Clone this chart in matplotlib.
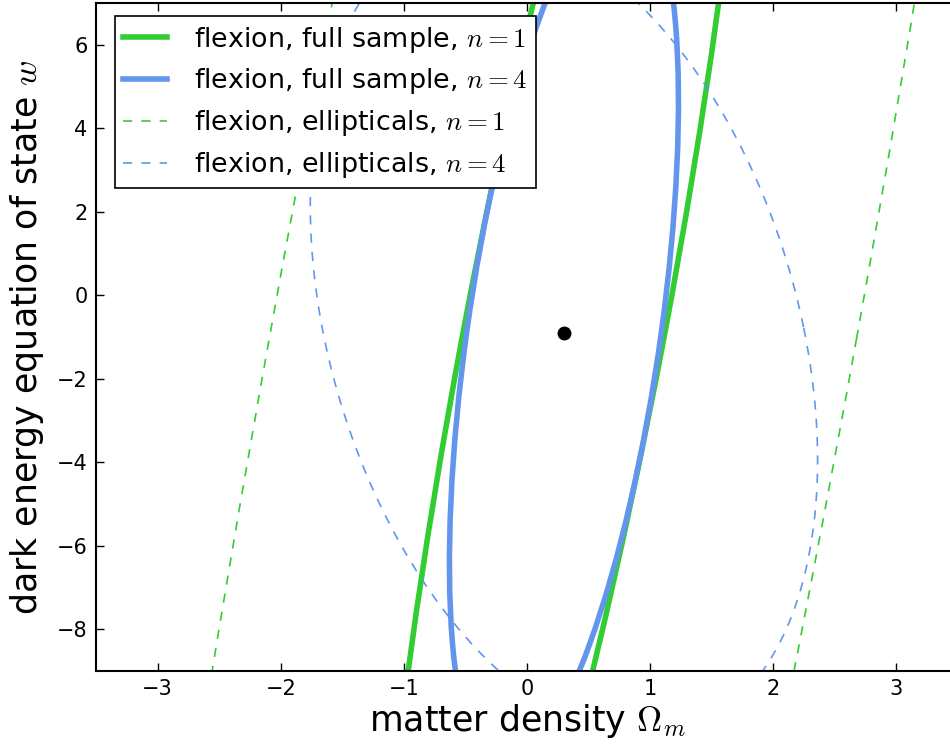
import numpy as np
import matplotlib
matplotlib.use('Agg')
import matplotlib.pyplot as plt
from matplotlib.patches import Ellipse
from matplotlib.lines import Line2D

plt.rcParams['mathtext.fontset'] = 'cm'
plt.rcParams['font.family'] = ['DejaVu Sans']

# fiducial cosmology
fid_om = 0.3
fid_w = -0.9

# forecast contours: marginal widths and correlation (Omega_m, w)
labels = ['flexion, full sample, $n=1$', 'flexion, full sample, $n=4$',
          'flexion, ellipticals, $n=1$', 'flexion, ellipticals, $n=4$']
sig_om = [1.515, 0.93, 4.37, 2.06]
sig_w = [20.0, 10.5, 60.0, 9.68]
rho = [0.841, 0.527, 0.838, -0.315]

colors = ['#32cd32', '#6495ed', '#32cd32', '#6495ed']
widths = [4, 4, 1.2, 1.2]
styles = ['-', '-', (0, (5.5, 5.5)), (0, (5.5, 5.5))]

fig = plt.figure(figsize=(9.5, 7.51), dpi=100)
ax = fig.add_axes([96/950, 80/751, 862/950, 668/751])

handles = []
for i in range(len(labels)):
    cov = np.array([[sig_om[i]**2, rho[i]*sig_om[i]*sig_w[i]],
                    [rho[i]*sig_om[i]*sig_w[i], sig_w[i]**2]])
    vals, vecs = np.linalg.eigh(cov)
    angle = np.degrees(np.arctan2(vecs[1, 1], vecs[0, 1]))
    e = Ellipse((fid_om, fid_w), 2*np.sqrt(vals[1]), 2*np.sqrt(vals[0]), angle=angle,
                fill=False, edgecolor=colors[i], lw=widths[i], linestyle=styles[i])
    ax.add_patch(e)
    handles.append(Line2D([], [], color=colors[i], lw=widths[i], linestyle=styles[i]))

ax.plot([fid_om], [fid_w], 'o', color='k', markersize=9, zorder=5)

ax.set_xlim(-3.5, 3.5)
ax.set_ylim(-9, 7)
ax.set_xticks([-3, -2, -1, 0, 1, 2, 3])
ax.set_yticks([-8, -6, -4, -2, 0, 2, 4, 6])
ax.tick_params(direction='in', top=True, right=True, length=6, width=1,
               labelsize=15, pad=6)
for s in ax.spines.values():
    s.set_linewidth(1.5)

ax.set_xlabel(r'matter density $\Omega_m$', fontsize=25, labelpad=2)
ax.set_ylabel(r'dark energy equation of state $w$', fontsize=25, labelpad=8)

leg = ax.legend(handles, labels, loc='upper left', bbox_to_anchor=(0.006, 1),
                fontsize=19.4, fancybox=False,
                framealpha=1, edgecolor='k', handlelength=1.65, handletextpad=1.0,
                borderpad=0.3, labelspacing=0.44, borderaxespad=0.5)
leg.get_frame().set_linewidth(1.2)

fig.savefig('out.png', dpi=100)
